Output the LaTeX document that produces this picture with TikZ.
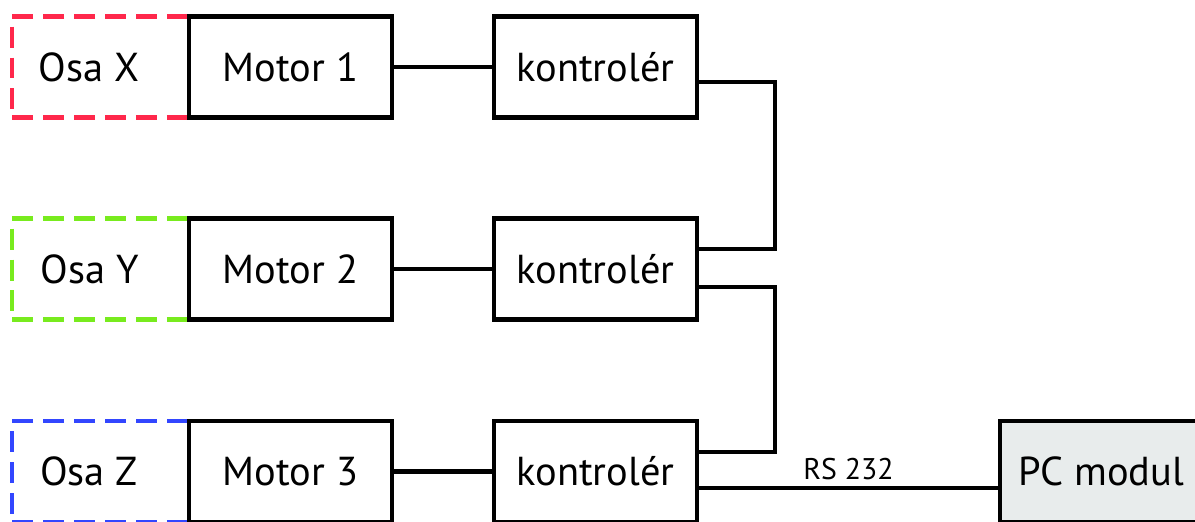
\documentclass[tikz,border=0pt]{standalone}
\usepackage{fontspec}
\setmainfont{PT Sans}
\usepackage{tikz}
\usetikzlibrary{positioning}
\definecolor{osared}{RGB}{255,40,75}
\definecolor{osagreen}{RGB}{120,235,30}
\definecolor{osablue}{RGB}{50,70,255}
\definecolor{pcgray}{RGB}{232,236,236}

\begin{document}
\begin{tikzpicture}[
    x=0.02cm, y=-0.02cm,
    box/.style={rectangle, draw, line width=2.3pt, minimum width=4.06cm,
                minimum height=2.02cm, inner sep=0pt, font=\fontsize{23}{26}\selectfont},
    axisbox/.style={rectangle, draw=#1, line width=2.3pt, dash pattern=on 0.42cm off 0.2cm,
                minimum width=3.54cm, minimum height=2.02cm, inner sep=0pt},
    axislabel/.style={font=\fontsize{23}{26}\selectfont},
    wire/.style={line width=2.3pt}
]
\useasboundingbox (0,0) rectangle (1195,521);

% osy (dashed frames, drawn first so the motor frame covers the shared side)
\node[axisbox=osared] (osax) at (100.5,67) {};
\node[axislabel] (osaxl) at (89,67) {Osa X};
\node[axisbox=osagreen] (osay) at (100.5,269) {};
\node[axislabel] (osayl) at (90,269) {Osa Y};
\node[axisbox=osablue] (osaz) at (100.5,471.5) {};
\node[axislabel] (osazl) at (89,471.5) {Osa Z};

% motory a kontrolery
\node[box] (m1) at (290.5,67) {Motor 1};
\node[box] (m2) at (290.5,269) {Motor 2};
\node[box] (m3) at (290.5,471.5) {Motor 3};
\node[box] (k1) at (595.5,67) {kontrolér};
\node[box] (k2) at (595.5,269) {kontrolér};
\node[box] (k3) at (595.5,471.5) {kontrolér};
\node[box, fill=pcgray] (pc) at (1101.5,471.5) {PC modul};

\draw[wire] (m1) -- (k1);
\draw[wire] (m2) -- (k2);
\draw[wire] (m3) -- (k3);

% zretezeni kontroleru
\draw[wire] ([yshift=-0.3cm]k1.east) -- ++(76,0) |- ([yshift=0.4cm]k2.east);
\draw[wire] ([yshift=-0.36cm]k2.east) -- ++(76,0) |- ([yshift=0.39cm]k3.east);
\draw[wire] ([yshift=-0.33cm]k3.east) -- node[above, font=\fontsize{17}{19}\selectfont] {RS 232}
    ([yshift=-0.33cm]k3.east -| pc.west);
\end{tikzpicture}
\end{document}
